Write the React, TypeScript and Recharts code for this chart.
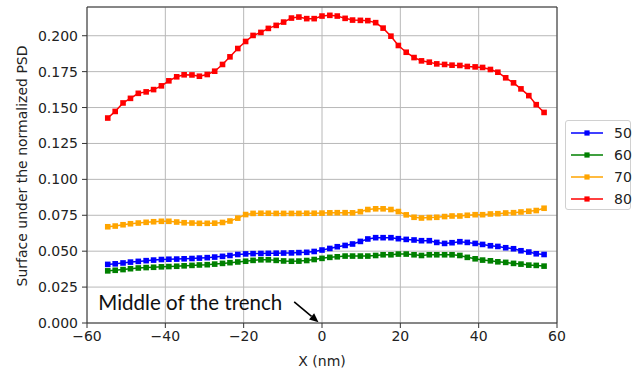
import React from "react"
import { LineChart, Line, XAxis, YAxis, CartesianGrid, ReferenceLine } from "recharts"

// x positions (nm), one per sample
const xNm = [
  -54.7, -52.8, -50.8, -48.9, -46.9, -44.9, -43.0, -41.0, -39.1, -37.1, -35.2, -33.2, -31.3, -29.3,
  -27.4, -25.4, -23.5, -21.5, -19.5, -17.6, -15.6, -13.7, -11.7, -9.8, -7.8, -5.9, -3.9, -2.0,
  0, 2.0, 3.9, 5.9, 7.8, 9.8, 11.7, 13.7, 15.6, 17.6, 19.5, 21.5, 23.5, 25.4, 27.4, 29.3,
  31.3, 33.2, 35.2, 37.1, 39.1, 41.0, 43.0, 44.9, 46.9, 48.9, 50.8, 52.8, 54.7, 56.7,
]

const s50 = [
  0.0408, 0.0412, 0.0418, 0.0424, 0.0429, 0.0434, 0.0438, 0.0442, 0.0444, 0.0445, 0.0447, 0.0449, 0.0452, 0.0455,
  0.0459, 0.0464, 0.047, 0.0477, 0.0481, 0.0483, 0.0484, 0.0485, 0.0486, 0.0487, 0.0488, 0.049, 0.0492, 0.0498,
  0.0508, 0.0519, 0.0531, 0.054, 0.055, 0.0568, 0.0585, 0.0594, 0.0594, 0.0594, 0.0587, 0.0582, 0.0578, 0.0573,
  0.0573, 0.0561, 0.0554, 0.0559, 0.0566, 0.0561, 0.0554, 0.0547, 0.0538, 0.0533, 0.0524, 0.0517, 0.0503, 0.0494,
  0.0482, 0.0477,
]

const s60 = [
  0.0363, 0.0367, 0.0372, 0.0378, 0.0383, 0.0386, 0.0388, 0.0391, 0.0393, 0.0395, 0.0398, 0.0401, 0.0404, 0.0406,
  0.041, 0.0415, 0.042, 0.0425, 0.043, 0.0436, 0.044, 0.044, 0.0436, 0.0432, 0.043, 0.0431, 0.0435, 0.0442,
  0.045, 0.0457, 0.0461, 0.0466, 0.0466, 0.0466, 0.0466, 0.047, 0.0475, 0.0475, 0.048, 0.048, 0.0475, 0.047,
  0.0475, 0.0475, 0.0475, 0.0475, 0.047, 0.0457, 0.0447, 0.0438, 0.0433, 0.0426, 0.0422, 0.0415, 0.041, 0.0403,
  0.0401, 0.0396,
]

const s70 = [
  0.067, 0.0675, 0.0684, 0.0691, 0.0696, 0.0701, 0.0705, 0.0708, 0.0708, 0.0703, 0.0698, 0.0696, 0.0694, 0.0694,
  0.0695, 0.07, 0.071, 0.073, 0.0755, 0.0763, 0.0764, 0.0764, 0.0763, 0.0763, 0.0763, 0.0763, 0.0764, 0.0764,
  0.0765, 0.0767, 0.0768, 0.0768, 0.0767, 0.0775, 0.079, 0.0795, 0.0795, 0.079, 0.0776, 0.0753, 0.0736, 0.0731,
  0.0734, 0.0736, 0.0741, 0.0745, 0.0745, 0.075, 0.0754, 0.0754, 0.0759, 0.0761, 0.0766, 0.0768, 0.0773, 0.0778,
  0.0783, 0.0799,
]

const s80 = [
  0.1427, 0.1473, 0.1532, 0.1564, 0.1599, 0.1609, 0.1625, 0.1651, 0.1686, 0.1714, 0.1728, 0.1727, 0.1718, 0.173,
  0.1753, 0.18, 0.1853, 0.1911, 0.196, 0.2002, 0.2023, 0.2051, 0.2072, 0.2095, 0.2123, 0.213, 0.2119, 0.2119,
  0.2137, 0.2142, 0.2137, 0.2121, 0.2109, 0.2107, 0.2105, 0.2091, 0.2053, 0.1997, 0.1932, 0.1885, 0.1848, 0.1825,
  0.1816, 0.1804, 0.18, 0.1795, 0.1793, 0.1786, 0.1783, 0.1779, 0.1765, 0.1746, 0.1707, 0.1672, 0.163, 0.1583,
  0.152, 0.1466,
]

const xTicks = [-60, -40, -20, 0, 20, 40, 60]
const yTicks = [0, 0.025, 0.05, 0.075, 0.1, 0.125, 0.15, 0.175, 0.2]

const series = [
  { key: "s50", name: "50", color: "#0000ff" },
  { key: "s60", name: "60", color: "#008000" },
  { key: "s70", name: "70", color: "#ffa500" },
  { key: "s80", name: "80", color: "#ff0000" },
]

const data = xNm.map((x, i) => ({ x, s50: s50[i], s60: s60[i], s70: s70[i], s80: s80[i] }))

const FONT = "DejaVu Sans"
const minus = (v: number) => String(v).replace("-", "\u2212")

const SquareDot = (color: string) => (props: any) => {
  const { cx, cy, index } = props
  if (cx == null || cy == null) return <g key={index} />
  return <rect key={index} x={cx - 2.8} y={cy - 2.8} width={5.6} height={5.6} fill={color} />
}

const Arrow = (props: any) => {
  const { x1, y1, x2, y2 } = props
  const ang = Math.atan2(y2 - y1, x2 - x1)
  const len = 9
  const w = 4
  const bx = x2 - len * Math.cos(ang)
  const by = y2 - len * Math.sin(ang)
  const px = -Math.sin(ang) * w
  const py = Math.cos(ang) * w
  return (
    <g>
      <line x1={x1} y1={y1} x2={bx} y2={by} stroke="#000" strokeWidth={1.6} />
      <polygon points={`${x2},${y2} ${bx + px},${by + py} ${bx - px},${by - py}`} fill="#000" />
      <text x={x1 - 12} y={y1 + 8} textAnchor="end" fontFamily="Lato" fontSize={20.5} fill="#111">
        Middle of the trench
      </text>
    </g>
  )
}

function Legend() {
  return (
    <div
      style={{
        position: "absolute",
        left: 565,
        top: 120,
        width: 66,
        height: 90,
        border: "1px solid #d0d0d0",
        borderRadius: 3,
        background: "#fff",
        fontFamily: FONT,
        fontSize: 14,
        color: "#222",
        boxSizing: "border-box",
      }}
    >
      {series.map((s, i) => (
        <div key={s.key} style={{ position: "absolute", left: 4, top: 2 + i * 22, height: 20, display: "flex", alignItems: "center" }}>
          <svg width={34} height={10}>
            <line x1={1} y1={5} x2={33} y2={5} stroke={s.color} strokeWidth={1.5} />
            <rect x={14.4} y={2.4} width={5.2} height={5.2} fill={s.color} />
          </svg>
          <span style={{ marginLeft: 10 }}>{s.name}</span>
        </div>
      ))}
    </div>
  )
}

export default function App() {
  return (
    <div style={{ position: "absolute", left: 0, top: 0, width: 634, height: 369, background: "#fff" }}>
      <LineChart width={634} height={369} data={data} margin={{ top: 7, right: 77, bottom: 0, left: 0 }}>
        <CartesianGrid stroke="#b8b8b8" strokeWidth={1} />
        <XAxis
          dataKey="x"
          type="number"
          domain={[-60, 60]}
          ticks={xTicks}
          tickFormatter={minus}
          height={46}
          tickSize={5}
          tickMargin={3}
          stroke="#333"
          tick={{ fontFamily: FONT, fontSize: 14, fill: "#222" }}
          label={{ value: "X (nm)", position: "insideBottom", offset: 3, fontFamily: FONT, fontSize: 14, fill: "#222" }}
        />
        <YAxis
          type="number"
          domain={[0, 0.22]}
          ticks={yTicks}
          tickFormatter={(v: number) => v.toFixed(3)}
          width={87}
          tickSize={5}
          tickMargin={4}
          stroke="#333"
          tick={{ fontFamily: FONT, fontSize: 14, fill: "#222" }}
          label={{
            content: () => (
              <text
                x={22}
                y={166}
                transform="rotate(-90 22 166)"
                textAnchor="middle"
                dominantBaseline="central"
                fontFamily={FONT}
                fontSize={14}
                fill="#222"
              >
                Surface under the normalized PSD
              </text>
            ),
          }}
        />
        <ReferenceLine y={0.22} stroke="#333" />
        <ReferenceLine x={60} stroke="#333" />
        {series.map((s) => (
          <Line
            key={s.key}
            dataKey={s.key}
            name={s.name}
            stroke={s.color}
            strokeWidth={1.5}
            dot={SquareDot(s.color)}
            activeDot={false}
            isAnimationActive={false}
          />
        ))}
        <ReferenceLine
          segment={[
            { x: -7.1, y: 0.0147 },
            { x: -0.9, y: 0.0006 },
          ]}
          ifOverflow="visible"
          shape={Arrow}
        />
      </LineChart>
      <Legend />
    </div>
  )
}
